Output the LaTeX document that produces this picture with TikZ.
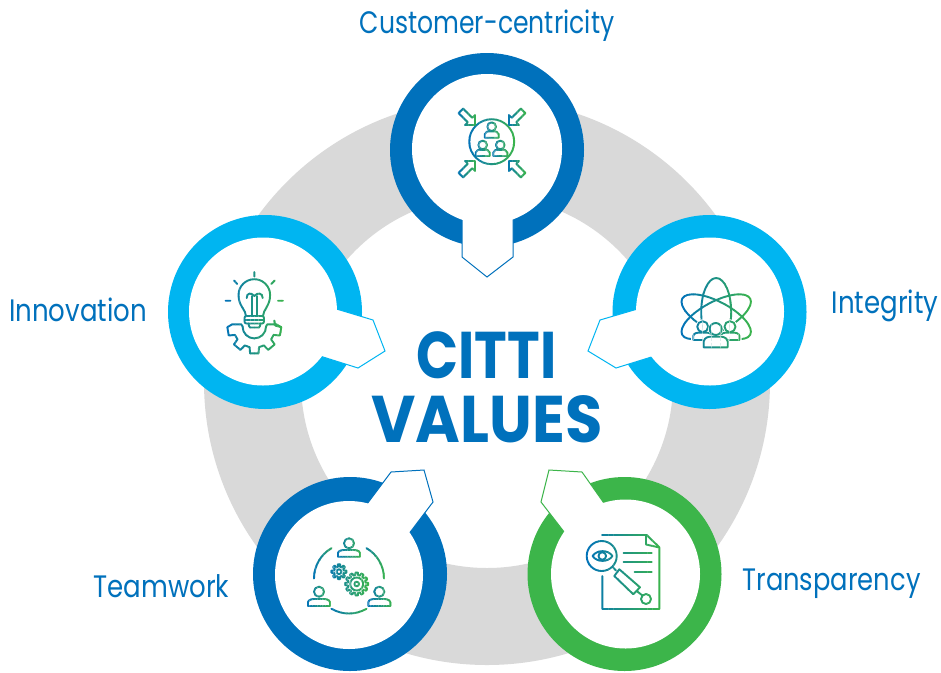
\documentclass[tikz,border=0pt]{standalone}
\usepackage{fontspec}
\setmainfont{Poppins}
\newfontfamily\labfont[FakeStretch=0.84]{Poppins}
\newfontfamily\titlefont[FakeStretch=0.92]{Poppins}
\definecolor{citiblue}{HTML}{0071BC}
\definecolor{citisky}{HTML}{00B5F1}
\definecolor{citigreen}{HTML}{3CB54A}
\definecolor{citigray}{HTML}{D9D9D9}
\tikzset{
  lab/.style={anchor=base,text=citiblue,font=\labfont\fontsize{31}{31}\selectfont,inner sep=0pt},
  ttl/.style={anchor=base,text=citiblue,font=\titlefont\bfseries\fontsize{66}{66}\selectfont,inner sep=0pt},
  tabline/.style={line width=1pt,line join=miter,fill=white}
}
% x0 x1 body : strokes with a left-to-right gradient
\newcommand{\gradicon}[3]{%
  \foreach \k in {0,...,15}{%
    \pgfmathsetmacro\xa{#1+(#2-#1)*\k/16}%
    \pgfmathsetmacro\xb{#1+(#2-#1)*(\k+1)/16+.25}%
    \pgfmathsetmacro\mixv{100*(\k+.5)/16}%
    \colorlet{gradcol}{citigreen!\mixv!citiblue}%
    \begin{scope}
      \clip (\xa,0) rectangle (\xb,672);
      \begin{scope}[color=gradcol,line width=1.9pt,line cap=round,line join=round]
        #3
      \end{scope}
    \end{scope}
  }%
}
% [opts] cx cy r base halfw top
\newcommand{\persona}[7][]{%
  \pgfmathsetmacro\pl{#2-#6}\pgfmathsetmacro\pr{#2+#6}%
  \pgfmathsetmacro\pil{#2-0.45*#6}\pgfmathsetmacro\pir{#2+0.45*#6}%
  \pgfmathsetmacro\ph{#5-0.55*(#5-#7)}%
  \pgfmathsetmacro\pcl{#2-0.95*#6}\pgfmathsetmacro\pcr{#2+0.95*#6}%
  \draw[fill=white,#1] (\pl,#5) -- (\pl,\ph) .. controls (\pcl,#7) and (\pil,#7) .. (\pil,#7)
     -- (\pir,#7) .. controls (\pir,#7) and (\pcr,#7) .. (\pr,\ph) -- (\pr,#5) -- cycle;
  \draw[fill=white,#1] (#2,#3) circle (#4);
}
% cx cy Rout Rin n
\newcommand{\cog}[5]{%
  \pgfmathsetmacro\cst{360/#5}%
  \draw[fill=white,shift={(#1,#2)}] (-0.3*\cst:#4)
    \foreach \j in {1,...,#5}{
      -- ({(\j-1)*\cst-0.2*\cst}:#3) -- ({(\j-1)*\cst+0.2*\cst}:#3)
      -- ({(\j-1)*\cst+0.3*\cst}:#4) -- ({(\j-1)*\cst+0.7*\cst}:#4)
    } -- cycle;
}
% tipx tipy angle
\newcommand{\blockarrow}[3]{%
  \draw[shift={(#1,#2)},rotate=#3] (0,0) -- (-7,7) -- (-7,3.2) -- (-20,3.2) -- (-20,-3.2) -- (-7,-3.2) -- (-7,-7) -- cycle;
}
\begin{document}
\begin{tikzpicture}[x=1pt,y=-1pt]
\useasboundingbox (0,0) rectangle (941,672);
\fill[white] (0,0) rectangle (941,672);
% gray ring
\fill[citigray,even odd rule] (487,382) circle (283) (487,382) circle (186);

% Customer-centricity
\fill[citiblue] (487,150) circle (97);
\draw[citiblue,tabline] (462,180) -- (462,257) -- (487,277) -- (513,257) -- (513,180) -- cycle;
\fill[white] (487,149) circle (75);
% Innovation
\fill[citisky] (265,312) circle (97);
\draw[citisky,tabline] (300,298) -- (373,320) -- (385,351) -- (358,368) -- (285,345) -- cycle;
\fill[white] (263,311.5) circle (74);
% Integrity
\fill[citisky] (709.5,312) circle (97);
\draw[citisky,tabline] (675,298) -- (600,320) -- (588,351) -- (616,368) -- (690,345) -- cycle;
\fill[white] (710,311.5) circle (74);
% Teamwork
\fill[citiblue] (350,574) circle (97);
\draw[citiblue,tabline] (340,540) -- (391,472) -- (424,470) -- (433,502) -- (380,572) -- cycle;
\fill[white] (349,575) circle (74);
% Transparency
\fill[citigreen] (624.5,574) circle (97);
\draw[citigreen,tabline] (630,540) -- (582,472) -- (549,470) -- (541,502) -- (595,572) -- cycle;
\fill[white] (625.5,574) circle (74.5);

% icon: customer
\gradicon{467}{516}{\draw (491.7,141.7) circle (22.5);}
\gradicon{483}{501}{\persona{491.7}{126.7}{4.3}{137.7}{7}{131.5}}
\gradicon{474}{492}{\persona{482.7}{145}{4.3}{156}{7}{149.8}}
\gradicon{491}{509}{\persona{500.3}{145}{4.3}{156}{7}{149.8}}
\gradicon{457}{477}{\blockarrow{475}{125}{-45}}
\gradicon{506}{526}{\blockarrow{509}{125}{-135}}
\gradicon{457}{477}{\blockarrow{475}{161}{45}}
\gradicon{506}{526}{\blockarrow{509}{161}{135}}
% icon: innovation
\gradicon{224}{285}{
  \draw (246,316) .. controls (246,310) and (238.5,306) .. (238.5,295) arc (180:360:15.8) .. controls (270.1,306) and (263,310) .. (263,316);
  \draw (246.7,298) .. controls (246.7,293) and (251,292) .. (254.3,296) .. controls (257.6,292) and (262.7,293) .. (262.7,298);
  \draw (251.7,296) -- (251.7,316) (257.3,296) -- (257.3,316);
  \draw[fill=white,rounded corners=2pt] (244.5,316) rectangle (264,323.5);
  \draw (244.5,319.7) -- (264,319.7);
  \draw (248.5,323.5) -- (249,326) -- (250,327.5) -- (259,327.5) -- (260,326) -- (260.5,323.5);
  \draw (254.3,272) -- (254.3,276.5) (234,280.5) -- (237.3,284) (274.7,280.5) -- (271.3,284)
        (225.5,300.7) -- (230.5,300.7) (278,300.7) -- (283,300.7);
  \draw[shift={(254.3,326.7)}] (11.7,0) arc (0:180:11.7) -- (-13,-2.4) -- (-22,-2.4)
    \foreach \a in {170,130,90,50,10}{
      -- ({\a+9}:27) -- ({\a-9}:27) -- ({\a-13}:21) -- ({\a-27}:21)
    } ;
  \draw[shift={(254.3,326.7)}] (27,0.5) -- (22,-2.4) -- (13,-2.4) -- (11.7,0);
}
% icon: integrity
\gradicon{680}{752}{
  \draw (716.2,312) ellipse (15 and 34);
  \draw[shift={(716.2,316.7)},rotate=28] (0,0) ellipse (38.5 and 15);
  \draw[shift={(716.2,316.7)},rotate=-28] (0,0) ellipse (38.5 and 15);
  \persona[white,line width=4pt]{702.7}{326.7}{5.5}{340}{9.5}{332.7}
  \persona[white,line width=4pt]{730}{326.7}{5.5}{340}{9.5}{332.7}
  \persona{702.7}{326.7}{5.5}{340}{9.5}{332.7}
  \persona{730}{326.7}{5.5}{340}{9.5}{332.7}
  \persona[white,line width=3pt]{715.7}{329}{6}{347.3}{12}{336.7}
  \persona{715.7}{329}{6}{347.3}{12}{336.7}
}
% icon: teamwork
\gradicon{360}{386}{\draw (349,578.5) ++(-60:35) arc (-60:0:35);}
\gradicon{312}{338}{\draw (349,578.5) ++(-120:35) arc (-120:-180:35);}
\gradicon{328}{370}{\draw (349,578.5) ++(60:35) arc (60:120:35);}
\gradicon{336}{362}{\persona{349}{543.3}{5}{556.7}{11}{550}}
\gradicon{306}{332}{\persona{319}{591.7}{5}{606}{11}{599}}
\gradicon{367}{393}{\persona{379.3}{591.7}{5}{606}{11}{599}}
\gradicon{325}{370}{
  \cog{339}{571.7}{7.5}{5}{8}
  \draw (339,571.7) circle (2.4);
  \cog{356.7}{584}{11.5}{9}{12}
  \draw (356.7,584) circle (6.5);
  \draw (356.7,584) circle (2.3);
}
% icon: transparency
\gradicon{584}{662}{
  \draw (602,535) -- (646.7,535) -- (659.3,547.3) -- (659.3,609) -- (602.3,609) -- (602.3,576);
  \draw (646,536) -- (646,544.5) -- (658.5,547.3);
  \draw (623.5,553.3) -- (651.7,553.3) (623.5,562.3) -- (651.7,562.3) (634.5,571.7) -- (651.7,571.7);
  \draw (601.7,556) circle (15);
  \draw (592.5,556) .. controls (597,549.5) and (608,549.5) .. (612.5,556) .. controls (608,562.5) and (597,562.5) .. (592.5,556) -- cycle;
  \draw (602.3,556) circle (3.8);
  \draw (612.7,567) -- (616,570.5);
  \draw (619.3,569.3) -- (614.3,576) -- (633.3,594.3) -- (640,587.3) -- cycle;
  \draw (636.7,591) -- (642.7,595.7);
  \draw (646,599) circle (5);
}

% centre title
\node[ttl] (titlea) at (486.5,378) {\scalebox{0.91}[1]{CITTI}};
\node[ttl] (titleb) at (487,442) {VALUES};
% labels
\node[lab] (customer) at (487,33) {\scalebox{0.964}[1]{Customer-centricity}};
\node[lab] (innovation) at (78,321) {Innovation};
\node[lab] (integrity) at (885,313) {Integrity};
\node[lab] (teamwork) at (161.5,597) {Teamwork};
\node[lab] (transparency) at (831.5,590) {\scalebox{0.99}[1]{Transparency}};
\end{tikzpicture}
\end{document}
